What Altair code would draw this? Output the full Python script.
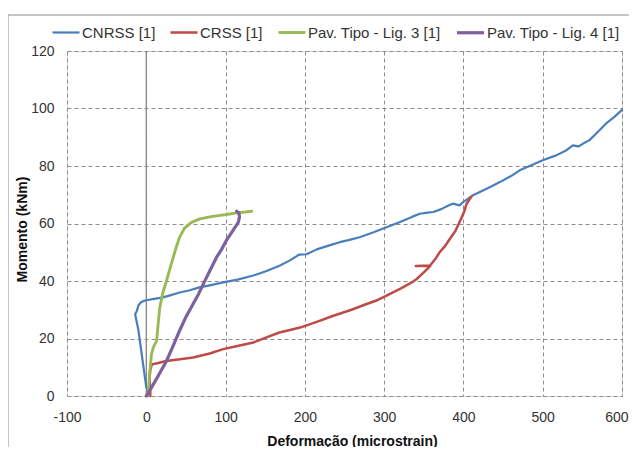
import altair as alt
import pandas as pd

series_names = ["CNRSS [1]", "CRSS [1]", "Pav. Tipo - Lig. 3 [1]", "Pav. Tipo - Lig. 4 [1]"]
series_colors = ["#4A7EBB", "#BE4B48", "#98B954", "#7D60A0"]
series_widths = [2.2, 3.2, 2.6, 2.6]

cnrss_x = [0, -2, -4, -6, -8, -10, -13, -14, -12, -10, -7, -4, 0, 10, 21, 30, 42, 55, 67, 80,
           97, 115, 135, 150, 168, 180, 193, 202, 215, 230, 244, 255, 269, 285, 303, 320, 335,
           345, 355, 362, 372, 383, 387, 395, 400, 412, 430, 446, 460, 471, 485, 500, 517, 530,
           538, 545, 551, 559, 570, 580, 590, 600]
cnrss_y = [3, 7, 11, 15, 19, 23, 27, 28.5, 29.5, 31.5, 32.5, 33, 33.3, 33.8, 34.3, 35, 36, 36.8,
           37.8, 38.5, 39.5, 40.5, 41.9, 43.3, 45.3, 47, 49.2, 49.3, 51, 52.3, 53.5, 54.2, 55.2,
           56.8, 58.7, 60.5, 62.3, 63.4, 63.8, 64, 65, 66.5, 66.9, 66.3, 67.5, 69.8, 72.2, 74.4,
           76.5, 78.5, 80.2, 82, 83.7, 85.5, 87.2, 86.8, 87.8, 89, 92, 94.8, 97, 99.5]

crss_x = [5, 5, 4, 5, 7, 15, 25, 40, 59, 80, 97, 115, 135, 150, 168, 180, 194, 215, 236, 258,
          278, 292, 303, 320, 335, 341, 350, 358, 340, 358, 365, 370, 377, 383, 390, 397, 401,
          404, 408, 410]
crss_y = [0, 3, 6, 9, 11, 11.5, 12.2, 12.7, 13.4, 14.8, 16.3, 17.4, 18.6, 20.2, 22.1, 22.9, 23.8,
          25.8, 27.9, 29.9, 32, 33.4, 34.9, 37.3, 39.5, 40.7, 43, 45.2, 45.2, 45.4, 47.8, 50, 52.2,
          54.7, 57.5, 61.6, 64.2, 66.9, 68.5, 69.4]

lig3_x = [2, 4, 6.5, 9, 13, 15, 17, 21, 25.5, 30, 34, 38, 42, 48, 57, 67.5, 80, 93, 105, 114,
          125, 133]
lig3_y = [0, 7, 14.5, 17, 19.2, 25, 30.8, 36, 40.1, 44.5, 48.2, 52, 55.2, 58.3, 60.4, 61.6, 62.3,
          62.8, 63.3, 63.7, 64, 64.3]

lig4_x = [0, 6.5, 16, 25.5, 34, 42, 50, 59, 66, 72, 80, 88.5, 95, 101, 108, 116, 117.5, 117, 114]
lig4_y = [0, 2.9, 7.5, 12.2, 17.5, 22.7, 27.5, 32, 35.5, 39, 43.5, 48.2, 51, 54.1, 57, 60.4, 62.2,
          63.5, 64.3]

x_ticks = [-100, 0, 100, 200, 300, 400, 500, 600]
y_ticks = [0, 20, 40, 60, 80, 100, 120]

rows = []
for name, xs, ys in zip(series_names, [cnrss_x, crss_x, lig3_x, lig4_x],
                        [cnrss_y, crss_y, lig3_y, lig4_y]):
    for i, (xv, yv) in enumerate(zip(xs, ys)):
        rows.append({"serie": name, "x": xv, "y": yv, "i": i})
df = pd.DataFrame(rows)

FONT = "Liberation Sans"
W, H = 555, 345

xscale = alt.Scale(domain=[-100, 600], nice=False, zero=False)
yscale = alt.Scale(domain=[0, 120], nice=False)

lines = alt.Chart(df).mark_line(strokeJoin="round", strokeCap="round").encode(
    x=alt.X("x:Q", scale=xscale,
            axis=alt.Axis(values=x_ticks, title="Deformação (microstrain)", ticks=False,
                          labelPadding=14, labelFlush=False, labelFontSize=14,
                          labelExpr="'' + datum.value",
                          labelAlign={"expr": "datum.value == 600 ? 'right' : 'center'"},
                          labelOffset={"expr": "datum.value == 600 ? 6 : 0"},
                          labelColor="#333333", labelFont=FONT,
                          titleFont=FONT, titleFontSize=14, titleFontWeight="bold",
                          titleColor="#111111", titleX=285, titleY=45, titleBaseline="middle",
                          titleAlign="center", grid=True, gridDash=[4, 3], gridColor="#8c8c8c",
                          gridWidth=1, domain=False)),
    y=alt.Y("y:Q", scale=yscale,
            axis=alt.Axis(values=y_ticks, title="Momento (kNm)", ticks=False, labelPadding=13,
                          labelFlush=False, labelFontSize=14, labelColor="#333333",
                          labelFont=FONT,
                          titleFont=FONT, titleFontSize=14, titleFontWeight="bold",
                          titleColor="#111111", titleX=-45, titleY=178, titleAngle=-90,
                          titleBaseline="middle", titleAlign="center", grid=True,
                          gridDash=[4, 3], gridColor="#8c8c8c", gridWidth=1, domain=False)),
    color=alt.Color("serie:N", scale=alt.Scale(domain=series_names, range=series_colors),
                    legend=alt.Legend(title=None, orient="none", direction="horizontal",
                                      legendX=-16, legendY=-34, symbolType="stroke",
                                      symbolSize=729, symbolStrokeWidth=2.5, labelOffset=1,
                                      columnPadding=9, labelFont=FONT, labelFontSize=15,
                                      labelColor="#333333")),
    strokeWidth=alt.StrokeWidth("serie:N", scale=alt.Scale(domain=series_names,
                                                           range=series_widths), legend=None),
    order=alt.Order("i:Q"),
)

zero_df = pd.DataFrame({"x0": [0]})
zero_line = alt.Chart(zero_df).mark_rule(color="#888888", strokeWidth=1.3).encode(
    x=alt.X("x0:Q", scale=xscale)
)

frame_df = pd.DataFrame({"k": [0]})
frame_left = alt.Chart(frame_df).mark_rule(color="#8a8a8a", strokeWidth=1).encode(
    x=alt.value(-59), y=alt.value(-36), y2=alt.value(420))
frame_top = alt.Chart(frame_df).mark_rule(color="#8a8a8a", strokeWidth=1).encode(
    x=alt.value(-59), x2=alt.value(580), y=alt.value(-36))

chart = alt.layer(frame_left, frame_top, zero_line, lines).properties(
    width=W, height=H,
    autosize=alt.AutoSizeParams(type="none"),
    padding={"left": 59, "top": 43, "right": 7, "bottom": 51},
).configure_view(stroke="#8497B0", strokeWidth=1.2).configure(background="white")

chart.save("out.html", embed_options={"renderer": "svg", "actions": False})
